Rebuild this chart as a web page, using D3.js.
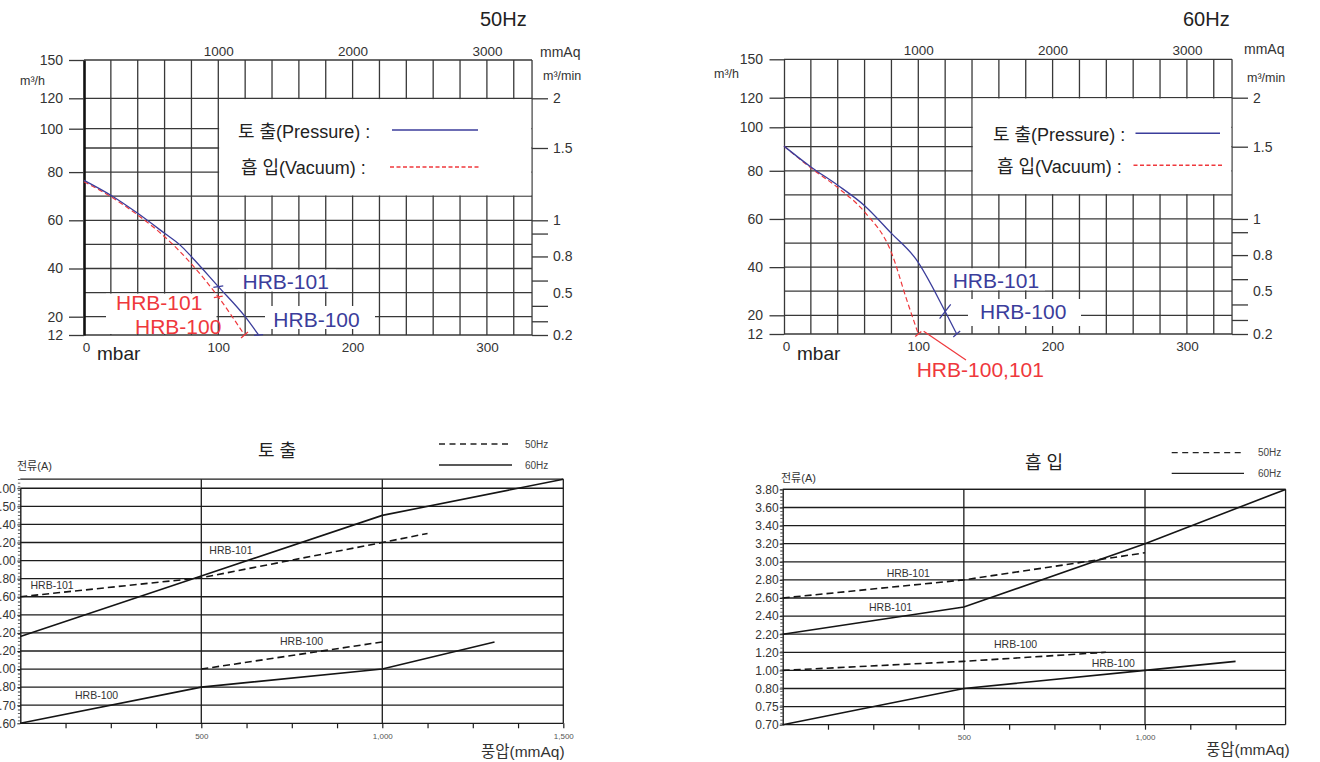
<!DOCTYPE html>
<html><head><meta charset="utf-8">
<script src="https://cdn.jsdelivr.net/npm/d3@7"></script>
<style>
body{margin:0;background:#fff;}
svg{display:block;}
</style></head><body>
<svg id="c" width="1320" height="762"></svg>
<script>
// ================= DATA =================
// top charts: air flow (m³/h) vs pressure (mbar)
const flowLabels = [150,120,100,80,60,40,20,12];
const flowMinorLines = [90,70,50,30];
const flowBreaks = [12,20,90,100,120,150];
const mbarLabels = [0,100,200,300];
const mmAqLabels = [1000,2000,3000];
const minTickFlow = [120,90,60,54.5,45,35,24.5,18,12];     // right axis ticks (m³/h equivalent)
const minLabelText = ["2","1.5","1","0.8","0.5","0.2"];
const minLabelFlow = [120,90,60,45,30,12];

const pressure50 = [[0,76.6],[20,70.4],[40,62.9],[60,54.6],[72,49.5],[80,44.9],[100,32.5],[120,20],[130,12]];
const vacuum50   = [[0,76.0],[20,69.8],[40,62.2],[60,53.2],[80,41.9],[100,28.2],[119.5,12]];
const pressure60 = [[0,90.3],[20,81.6],[40,74.0],[60,65.5],[80,54.0],[98,43.5],[120,21.6],[128.6,12]];
const vacuum60   = [[0,90.3],[20,81.2],[40,73.0],[60,62.9],[80,46.0],[91.4,26.4],[100,12]];

// bottom charts: current (A) vs head (mmAq)
const ampLabelsDis = [0.60,0.70,0.80,1.00,1.20,2.20,2.40,2.60,2.80,3.00,3.20,3.40,3.50,4.00];
const ampLabelsSuc = [0.70,0.75,0.80,1.00,1.20,2.20,2.40,2.60,2.80,3.00,3.20,3.40,3.60,3.80];
const headTickLabels = [500,1000,1500];

const dis101_50 = [[0,2.60],[500,2.81],[1000,3.20],[1125,3.30]];
const dis101_60 = [[0,2.00],[500,2.83],[1000,3.45],[1500,4.25]];
const dis100_50 = [[500,1.00],[1000,1.70]];
const dis100_60 = [[0,0.60],[500,0.80],[1000,1.00],[1310,1.70]];
const suc101_50 = [[0,2.60],[500,2.80],[1000,3.10]];
const suc101_60 = [[0,2.20],[500,2.50],[1000,3.20],[1388,3.80]];
const suc100_50 = [[0,1.00],[500,1.10],[892,1.20]];
const suc100_60 = [[0,0.70],[500,0.80],[1000,1.00],[1250,1.10]];

// ================= STYLE =================
const FONT = '"Liberation Sans","Noto Sans CJK KR",Arial,sans-serif';
const GRID = "#383838", BLUE = "#3b3d9b", RED = "#ef383c", TXT = "#333";
const svg = d3.select("#c").attr("font-family", FONT);
svg.append("rect").attr("width",1320).attr("height",762).attr("fill","#fff");

function txt(g, s, x, y, size, opt={}){
  const t = g.append("text").attr("x",x).attr("y",y).attr("font-size",size)
    .attr("fill", opt.fill||TXT).text(s);
  if(opt.anchor) t.attr("text-anchor",opt.anchor);
  if(opt.ls) t.attr("letter-spacing",opt.ls);
  return t;
}
function valAt(series, m){
  for(let i=0;i<series.length-1;i++){
    const a=series[i], b=series[i+1];
    if(m>=a[0] && m<=b[0]) return a[1]+(b[1]-a[1])*(m-a[0])/(b[0]-a[0]);
  }
  return series[series.length-1][1];
}

// ================= TOP CHARTS =================
function drawTop(c){
  const g = svg.append("g");
  const x = d3.scaleLinear().domain([0,100]).range([c.x0, c.x0+134.3]);
  const xq = d3.scaleLinear().domain([0,1000]).range([c.x0, c.x0+134.3]);
  const y = d3.scaleLinear().domain(flowBreaks).range(c.yr);
  const xMax = 333.6, xr = x(xMax);

  // horizontal grid
  g.append("g").selectAll("line").data(flowLabels.concat(flowMinorLines)).join("line")
    .attr("x1",c.x0).attr("x2",xr).attr("y1",d=>y(d)).attr("y2",d=>y(d))
    .attr("stroke",GRID).attr("stroke-width",1.3);
  // vertical grid
  g.append("g").selectAll("line").data(d3.range(20,xMax,20).concat([xMax])).join("line")
    .attr("x1",d=>x(d)).attr("x2",d=>x(d)).attr("y1",y(150)).attr("y2",y(12))
    .attr("stroke",GRID).attr("stroke-width",1.3);

  // left axis
  const ay = g.append("g").attr("transform",`translate(${c.x0},0)`)
    .call(d3.axisLeft(y).tickValues(flowLabels).tickSize(c.tickL).tickSizeOuter(0).tickPadding(21-c.tickL).tickFormat(d3.format("d")));
  ay.attr("font-family",FONT).attr("font-size",14);
  ay.select(".domain").attr("stroke",c.axisColor).attr("stroke-width",c.axisW);
  ay.selectAll(".tick line").attr("stroke",GRID).attr("stroke-width",1.3);
  ay.selectAll("text").attr("fill",TXT);

  // right axis (m³/min)
  const ar = g.append("g").attr("transform",`translate(${xr},0)`)
    .call(d3.axisRight(y).tickValues(minTickFlow).tickSize(16).tickSizeOuter(0).tickFormat(""));
  ar.select(".domain").remove();
  ar.selectAll(".tick line").attr("stroke",GRID).attr("stroke-width",1.3);
  const arl = g.append("g").attr("transform",`translate(${xr},0)`)
    .call(d3.axisRight(y).tickValues(minLabelFlow).tickSize(0).tickPadding(21).tickFormat((d,i)=>minLabelText[i]));
  arl.attr("font-family",FONT).attr("font-size",14);
  arl.select(".domain").remove();
  arl.selectAll("text").attr("fill",TXT);

  // top axis (mmAq)
  const at = g.append("g").attr("transform",`translate(0,${y(150)})`)
    .call(d3.axisTop(xq).tickValues(mmAqLabels).tickSize(0).tickPadding(4.5).tickFormat(d3.format("d")));
  at.attr("font-family",FONT).attr("font-size",13.5);
  at.select(".domain").remove();
  at.selectAll("text").attr("fill",TXT);

  // bottom axis (mbar)
  const ab = g.append("g").attr("transform",`translate(0,${y(12)})`)
    .call(d3.axisBottom(x).tickValues(mbarLabels).tickSize(0).tickPadding(7).tickFormat(d3.format("d")));
  ab.attr("font-family",FONT).attr("font-size",13.5);
  ab.select(".domain").remove();
  ab.selectAll("text").attr("fill",TXT).attr("dx",d=>d===0?2:0);

  // legend white box
  const bx = x(c.boxFrom);
  g.append("rect").attr("x",bx+0.8).attr("y",y(120)+0.8)
    .attr("width",xr-bx-1.6).attr("height",y(70)-y(120)-1.6).attr("fill","#fff");

  // label backgrounds
  c.bgs.forEach(b=>g.append("rect").attr("x",b[0]).attr("y",b[1]).attr("width",b[2]-b[0]).attr("height",b[3]-b[1]).attr("fill","#fff"));

  // curves
  const line = d3.line().x(d=>x(d[0])).y(d=>y(d[1])).curve(d3.curveMonotoneX);
  g.append("path").attr("d",line(c.vac)).attr("fill","none").attr("stroke",RED).attr("stroke-width",1.2).attr("stroke-dasharray","5,3");
  g.append("path").attr("d",line(c.pre)).attr("fill","none").attr("stroke",BLUE).attr("stroke-width",1.3);

  // markers
  c.marks.forEach(m=>{
    const s = m.s==="p"?c.pre:c.vac;
    const px = x(m.at), py = y(valAt(s,m.at));
    const a = m.ang*Math.PI/180, h = m.len/2;
    g.append("line").attr("x1",px-h*Math.cos(a)).attr("y1",py-h*Math.sin(a))
      .attr("x2",px+h*Math.cos(a)).attr("y2",py+h*Math.sin(a))
      .attr("stroke",m.s==="p"?BLUE:RED).attr("stroke-width",1.3);
  });
  if(c.leader){
    g.append("line").attr("x1",x(c.leader[0])).attr("y1",y(c.leader[1]))
      .attr("x2",x(c.leader[2])).attr("y2",y(12)+c.leader[3])
      .attr("stroke",RED).attr("stroke-width",1.2);
  }

  // legend
  txt(g,"토 출(Pressure) :",c.lg[0],c.lg[1],18,{fill:"#222"});
  txt(g,"흡 입(Vacuum) :",c.lg[2],c.lg[3],18,{fill:"#222"});
  g.append("line").attr("x1",c.lgp[0]).attr("x2",c.lgp[1]).attr("y1",c.lgp[2]).attr("y2",c.lgp[2]).attr("stroke",BLUE).attr("stroke-width",1.4);
  g.append("line").attr("x1",c.lgv[0]).attr("x2",c.lgv[1]).attr("y1",c.lgv[2]).attr("y2",c.lgv[2]).attr("stroke",RED).attr("stroke-width",1.4).attr("stroke-dasharray","4,2.5");

  // units & titles
  txt(g,c.title,c.tpos[0],c.tpos[1],20,{fill:"#222"});
  txt(g,"mmAq",c.mmaq[0],c.mmaq[1],14);
  txt(g,"m³/min",c.mmin[0],c.mmin[1],12.5);
  txt(g,"m³/h",c.mh[0],c.mh[1],12.5);
  txt(g,"mbar",c.x0+13,360,19,{fill:"#222"});

  // curve labels
  c.labels.forEach(l=>txt(g,l[0],l[1],l[2],21,{fill:l[3]}));
}

drawTop({
  x0:84, yr:[335,316.7,148,128.7,98.3,60], axisColor:"#111", axisW:2.6, tickL:15,
  boxFrom:100, pre:pressure50, vac:vacuum50,
  bgs:[[238,269.6,336,291.6],[106,293.6,216.5,334],[265,306,375,329]],
  marks:[{s:"p",at:100,len:10,ang:-8},{s:"p",at:130,len:9,ang:-5},{s:"v",at:100,len:9,ang:-10},{s:"v",at:119.5,len:9,ang:-40}],
  leader:null,
  lg:[238,138,241,174], lgp:[392,478,130], lgv:[390,481,167],
  title:"50Hz", tpos:[480,26], mmaq:[540,57], mmin:[543,80], mh:[20,85],
  labels:[["HRB-101",242.5,289.3,BLUE],["HRB-100",273.3,326.7,BLUE],["HRB-101",116,310,RED],["HRB-100",135,334,RED]]
});
drawTop({
  x0:784, yr:[334,315.3,146.7,127.3,97.7,59.3], axisColor:GRID, axisW:1.3, tickL:14.5,
  boxFrom:140, pre:pressure60, vac:vacuum60,
  bgs:[[948,268.2,1045,290.3],[968,299,1081,326]],
  marks:[{s:"p",at:120,len:18,ang:-52},{s:"p",at:128.6,len:9,ang:-40},{s:"v",at:100,len:8,ang:-40}],
  leader:[104,13.2,135.5,26],
  lg:[993,141,997,172.5], lgp:[1135.5,1220,133.3], lgv:[1133.5,1224,165.3],
  title:"60Hz", tpos:[1183,26], mmaq:[1244,54], mmin:[1247,82], mh:[714,78],
  labels:[["HRB-101",952.7,287.7,BLUE],["HRB-100",980,319.3,BLUE],["HRB-100,101",916.7,377,RED]]
});

// ================= BOTTOM CHARTS =================
function drawBottom(c){
  const g = svg.append("g");
  const x = d3.scaleLinear().domain([0,1000]).range([c.x0, c.x1000]);
  const y = d3.scaleLinear().domain(c.labels).range(c.labels.map((d,i)=>c.yBase - i*c.step));
  const xr = x(c.xMax), yt = c.yBase - c.topIdx*c.step, yb = c.yBase;

  // horizontal grid + top border
  g.append("g").selectAll("line").data(c.labels).join("line")
    .attr("x1",c.x0).attr("x2",xr).attr("y1",d=>y(d)).attr("y2",d=>y(d))
    .attr("stroke","#1c1c1c").attr("stroke-width",1.3);
  g.append("line").attr("x1",c.x0).attr("x2",xr).attr("y1",yt).attr("y2",yt).attr("stroke","#1c1c1c").attr("stroke-width",1.3);
  // vertical grid
  g.append("g").selectAll("line").data([500,1000,c.xMax]).join("line")
    .attr("x1",d=>x(d)).attr("x2",d=>x(d)).attr("y1",yt).attr("y2",yb)
    .attr("stroke","#1c1c1c").attr("stroke-width",1.3);

  // minor ruler ticks on left axis
  g.append("line").attr("x1",c.x0-1.2).attr("x2",c.x0-1.2).attr("y1",yt).attr("y2",yb)
    .attr("stroke","#333").attr("stroke-width",2.4).attr("stroke-dasharray","0.8,2.8");

  // left axis
  const ay = g.append("g").attr("transform",`translate(${c.x0},0)`)
    .call(d3.axisLeft(y).tickValues(c.labels).tickSize(3).tickSizeOuter(0).tickPadding(c.pad).tickFormat(d3.format(".2f")));
  ay.attr("font-family",FONT).attr("font-size",12);
  ay.select(".domain").attr("stroke","#1c1c1c").attr("stroke-width",1.4);
  ay.selectAll(".tick line").attr("stroke","#1c1c1c");
  ay.selectAll("text").attr("fill",TXT);

  // bottom axis
  const ab = g.append("g").attr("transform",`translate(0,${yb})`)
    .call(d3.axisBottom(x).tickValues(d3.range(125,c.tickMax+1,125)).tickSize(5).tickSizeOuter(0).tickPadding(5)
      .tickFormat(d=>headTickLabels.includes(d)?d3.format(",")(d):""));
  ab.attr("font-family",FONT).attr("font-size",8);
  ab.select(".domain").remove();
  ab.selectAll(".tick line").attr("stroke","#1c1c1c").attr("stroke-width",1.2);
  ab.selectAll("text").attr("fill","#555");

  // series
  const line = d3.line().x(d=>x(d[0])).y(d=>y(d[1]));
  c.series.forEach(s=>{
    const p = g.append("path").attr("d",line(s.d)).attr("fill","none").attr("stroke","#151515").attr("stroke-width",1.6);
    if(s.dash) p.attr("stroke-dasharray","7,4");
  });

  // labels
  c.tags.forEach(t=>txt(g,t[0],t[1],t[2],10.5,{fill:"#333"}));
  txt(g,c.title,c.tpos[0],c.tpos[1],18,{fill:"#222"});
  txt(g,"전류(A)",c.ypos[0],c.ypos[1],11,{fill:"#333"});
  txt(g,"풍압(mmAq)",c.xpos[0],c.xpos[1],15.5,{fill:"#333"});

  // legend
  g.append("line").attr("x1",c.lg[0]).attr("x2",c.lg[1]).attr("y1",c.lg[2]).attr("y2",c.lg[2]).attr("stroke","#222").attr("stroke-width",1.3).attr("stroke-dasharray","6,4.5");
  g.append("line").attr("x1",c.lg[0]).attr("x2",c.lg[1]+2).attr("y1",c.lg[3]).attr("y2",c.lg[3]).attr("stroke","#222").attr("stroke-width",1.3);
  txt(g,"50Hz",c.lg[4],c.lg[2]+3.5,10,{fill:"#444"});
  txt(g,"60Hz",c.lg[4],c.lg[3]+3.5,10,{fill:"#444"});
}

drawBottom({
  x0:20.3, x1000:382.3, xMax:1500, tickMax:1500, yBase:723.3, step:18.08, topIdx:13.5, pad:1.5,
  labels:ampLabelsDis,
  series:[{d:dis101_50,dash:true},{d:dis101_60},{d:dis100_50,dash:true},{d:dis100_60}],
  tags:[["HRB-101",30.5,589],["HRB-101",209.3,554],["HRB-100",280,645],["HRB-100",75,698.5]],
  title:"토 출", tpos:[258,457], ypos:[17,470], xpos:[481,757],
  lg:[439,510,444,465,525]
});
drawBottom({
  x0:782.7, x1000:1145, xMax:1388, tickMax:1250, yBase:724.7, step:18.1, topIdx:13, pad:1,
  labels:ampLabelsSuc,
  series:[{d:suc101_50,dash:true},{d:suc101_60},{d:suc100_50,dash:true},{d:suc100_60}],
  tags:[["HRB-101",886.7,577],["HRB-101",869,611],["HRB-100",994,647.5],["HRB-100",1091.7,666.5]],
  title:"흡 입", tpos:[1025,469], ypos:[781,482], xpos:[1206,755],
  lg:[1171.7,1242,452.7,473.3,1258]
});
</script>
</body></html>
